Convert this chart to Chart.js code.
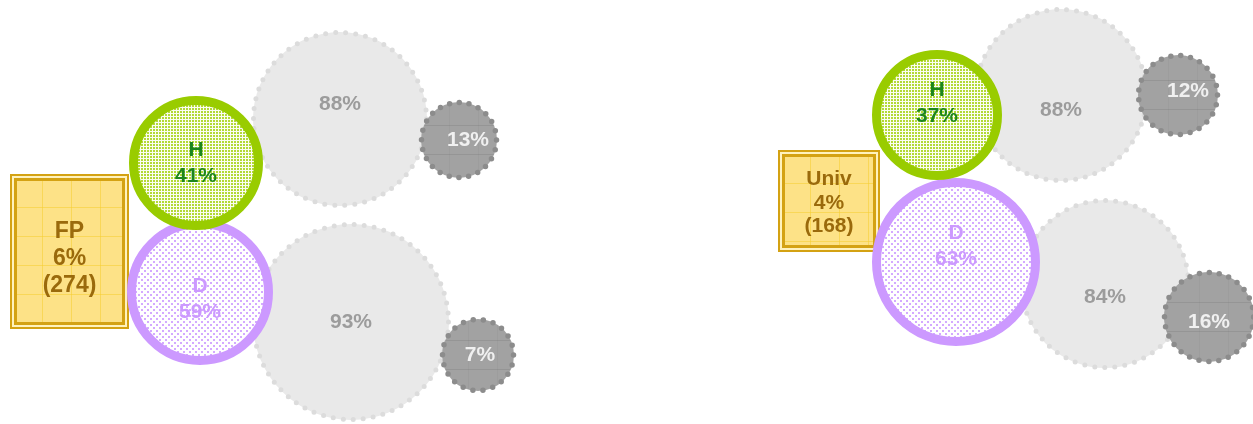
<!DOCTYPE html>
<html>
<head>
<meta charset="utf-8">
<script src="https://cdn.jsdelivr.net/npm/chart.js@4.4.1/dist/chart.umd.min.js"></script>
<style>
  html, body { margin: 0; padding: 0; background: #fff; }
  #wrap { width: 1253px; height: 424px; }
</style>
</head>
<body>
<div id="wrap"><canvas id="bubbleChart" width="1253" height="424"></canvas></div>
<script>
// values (left group, right group)
const groups = ['FP', 'Univ'];
const groupShare = [6, 4];
const groupCount = [274, 168];
const hShare = [41, 37];
const dShare = [59, 63];
const hBigShare = [88, 88];
const hSmallShare = [13, 12];
const dBigShare = [93, 84];
const dSmallShare = [7, 16];

// layout on the page (px in data units, scales are 1:1), kept apart from the values
const boxPos = [
    { x0: 10, x1: 129, y0: 174, y1: 329, dy: 7, font: 23, lh: 27 },
    { x0: 778, x1: 880, y0: 150, y1: 252, dy: 2, font: 21, lh: 23.5 }
];
const hPos = [{ x: 196, y: 163, r: 62.5, dy: 0 }, { x: 937, y: 115, r: 60.5, dy: -12 }];
const dPos = [{ x: 200, y: 292, r: 68.5, dy: 7 }, { x: 956, y: 262, r: 79.5, dy: -16 }];
const hBigPos = [{ x: 340, y: 119, r: 87, dy: -15 }, { x: 1061, y: 95, r: 86, dy: 15 }];
const hSmallPos = [{ x: 459, y: 140, r: 38, dx: 9 }, { x: 1178, y: 95, r: 40, dx: 10, dy: -4 }];
const dBigPos = [{ x: 351, y: 322, r: 98 }, { x: 1105, y: 284, r: 84, dy: 13 }];
const dSmallPos = [{ x: 478, y: 355, r: 36, dx: 2 }, { x: 1209, y: 317, r: 45, dy: 5 }];

const FONT = '"Liberation Sans", Arial, Helvetica, sans-serif';

function makePattern(w, h, bg, fg, dots) {
    const c = document.createElement('canvas');
    c.width = w; c.height = h;
    const g = c.getContext('2d');
    g.fillStyle = bg;
    g.fillRect(0, 0, w, h);
    g.fillStyle = fg;
    dots.forEach(d => g.fillRect(d[0], d[1], d[2], d[3]));
    return g.createPattern(c, 'repeat');
}

const toPoints = pos => pos.map(p => ({ x: p.x, y: p.y, r: p.r }));

const greenDots = makePattern(3, 3, '#fbfdf2', '#b3d936', [[0, 0, 2, 2]]);
const purpleDots = makePattern(6, 6, '#ffffff', '#d4aaff', [[0, 0, 2, 2], [3, 3, 2, 2]]);

const nodeDecor = {
    id: 'nodeDecor',
    beforeDatasetsDraw(chart) {
        const ctx = chart.ctx;
        const sx = chart.scales.x, sy = chart.scales.y;
        boxPos.forEach((b, i) => {
            const x0 = sx.getPixelForValue(b.x0), x1 = sx.getPixelForValue(b.x1);
            const y0 = sy.getPixelForValue(b.y0), y1 = sy.getPixelForValue(b.y1);
            ctx.save();
            ctx.fillStyle = '#fff2bd';
            ctx.fillRect(x0, y0, x1 - x0, y1 - y0);
            ctx.fillStyle = '#fde287';
            ctx.fillRect(x0 + 5, y0 + 5, x1 - x0 - 10, y1 - y0 - 10);
            // faint grid inside the box
            ctx.strokeStyle = 'rgba(246, 205, 50, 0.55)';
            ctx.lineWidth = 1;
            ctx.beginPath();
            for (let gx = x0 + 32; gx < x1 - 6; gx += 29) { ctx.moveTo(gx + 0.5, y0 + 6); ctx.lineTo(gx + 0.5, y1 - 6); }
            for (let gy = y0 + 33; gy < y1 - 6; gy += 29) { ctx.moveTo(x0 + 6, gy + 0.5); ctx.lineTo(x1 - 6, gy + 0.5); }
            ctx.stroke();
            ctx.strokeStyle = '#d4a213';
            ctx.lineWidth = 2;
            ctx.strokeRect(x0 + 1, y0 + 1, x1 - x0 - 2, y1 - y0 - 2);
            ctx.lineWidth = 3;
            ctx.strokeRect(x0 + 5.5, y0 + 5.5, x1 - x0 - 11, y1 - y0 - 11);

            const lines = [groups[i], groupShare[i] + '%', '(' + groupCount[i] + ')'];
            ctx.fillStyle = '#9a6a0c';
            ctx.font = 'bold ' + b.font + 'px ' + FONT;
            ctx.textAlign = 'center';
            ctx.textBaseline = 'middle';
            const cx = (x0 + x1) / 2, cy = (y0 + y1) / 2 + b.dy;
            lines.forEach((t, k) => ctx.fillText(t, cx, cy + (k - (lines.length - 1) / 2) * b.lh));
            ctx.restore();
        });
    },
    afterDatasetDraw(chart, args) {
        const ds = chart.data.datasets[args.index];
        if (!ds.dots) return;
        const ctx = chart.ctx;
        args.meta.data.forEach(el => {
            const r = el.options.radius - 0.5;
            const n = Math.round(2 * Math.PI * r / ds.dots.gap);
            ctx.save();
            // faint lines across the small circles
            if (ds.dots.grid) {
                ctx.beginPath();
                ctx.arc(el.x, el.y, r, 0, 2 * Math.PI);
                ctx.clip();
                ctx.lineWidth = 1;
                ctx.strokeStyle = 'rgba(120, 120, 120, 0.3)';
                ctx.beginPath();
                ctx.moveTo(el.x - r, el.y - 14.5); ctx.lineTo(el.x + r, el.y - 14.5);
                ctx.moveTo(el.x - r, el.y + 14.5); ctx.lineTo(el.x + r, el.y + 14.5);
                ctx.stroke();
                ctx.strokeStyle = 'rgba(120, 120, 120, 0.12)';
                ctx.beginPath();
                ctx.moveTo(el.x - 9.5, el.y - r); ctx.lineTo(el.x - 9.5, el.y + r);
                ctx.moveTo(el.x + 19.5, el.y - r); ctx.lineTo(el.x + 19.5, el.y + r);
                ctx.stroke();
                ctx.restore();
                ctx.save();
            }
            ctx.beginPath();
            ctx.arc(el.x, el.y, r, 0, 2 * Math.PI);
            ctx.setLineDash([0, 2 * Math.PI * r / n]);
            ctx.lineCap = 'round';
            ctx.lineWidth = ds.dots.size;
            ctx.strokeStyle = ds.dots.color;
            ctx.stroke();
            ctx.restore();
        });
    },
    afterDatasetsDraw(chart) {
        const ctx = chart.ctx;
        chart.data.datasets.forEach((ds, di) => {
            const meta = chart.getDatasetMeta(di);
            meta.data.forEach((el, i) => {
                const p = ds.pos[i];
                const lines = ds.lines[i];
                ctx.save();
                ctx.fillStyle = ds.textColor;
                ctx.font = 'bold 21px ' + FONT;
                ctx.textAlign = 'center';
                ctx.textBaseline = 'middle';
                const cx = el.x + (p.dx || 0), cy = el.y + (p.dy || 0);
                lines.forEach((t, k) => ctx.fillText(t, cx, cy + (k - (lines.length - 1) / 2) * 26));
                ctx.restore();
            });
        });
    }
};

const ctx = document.getElementById('bubbleChart').getContext('2d');
new Chart(ctx, {
    type: 'bubble',
    data: {
        datasets: [
            {
                label: 'H', order: 1, pos: hPos, data: toPoints(hPos),
                lines: hShare.map(v => ['H', v + '%']), textColor: '#1c861c',
                backgroundColor: greenDots, borderColor: '#99cc00', borderWidth: 9
            },
            {
                label: 'D', order: 1, pos: dPos, data: toPoints(dPos),
                lines: dShare.map(v => ['D', v + '%']), textColor: '#cc99ff',
                backgroundColor: purpleDots, borderColor: '#cc99ff', borderWidth: 9
            },
            {
                label: 'H small', order: 2, pos: hSmallPos, data: toPoints(hSmallPos),
                lines: hSmallShare.map(v => [v + '%']), textColor: '#f0f0f0',
                backgroundColor: '#a2a2a2', borderWidth: 0,
                dots: { color: '#8c8c8c', size: 5.5, gap: 10, grid: true }
            },
            {
                label: 'D small', order: 2, pos: dSmallPos, data: toPoints(dSmallPos),
                lines: dSmallShare.map(v => [v + '%']), textColor: '#f0f0f0',
                backgroundColor: '#a2a2a2', borderWidth: 0,
                dots: { color: '#8c8c8c', size: 5.5, gap: 10, grid: true }
            },
            {
                label: 'H big', order: 3, pos: hBigPos, data: toPoints(hBigPos),
                lines: hBigShare.map(v => [v + '%']), textColor: '#9c9c9c',
                backgroundColor: '#e9e9e9', borderWidth: 0,
                dots: { color: '#dcdcdc', size: 5, gap: 10 }
            },
            {
                label: 'D big', order: 3, pos: dBigPos, data: toPoints(dBigPos),
                lines: dBigShare.map(v => [v + '%']), textColor: '#9c9c9c',
                backgroundColor: '#e9e9e9', borderWidth: 0,
                dots: { color: '#dcdcdc', size: 5, gap: 10 }
            }
        ]
    },
    options: {
        responsive: false,
        animation: false,
        events: [],
        clip: false,
        layout: { padding: 0, autoPadding: false },
        scales: {
            x: { type: 'linear', min: 0, max: 1253, display: false },
            y: { type: 'linear', min: 0, max: 424, reverse: true, display: false }
        },
        elements: { point: { hoverRadius: 0 } },
        plugins: {
            legend: { display: false },
            tooltip: { enabled: false }
        }
    },
    plugins: [nodeDecor]
});
</script>
</body>
</html>
